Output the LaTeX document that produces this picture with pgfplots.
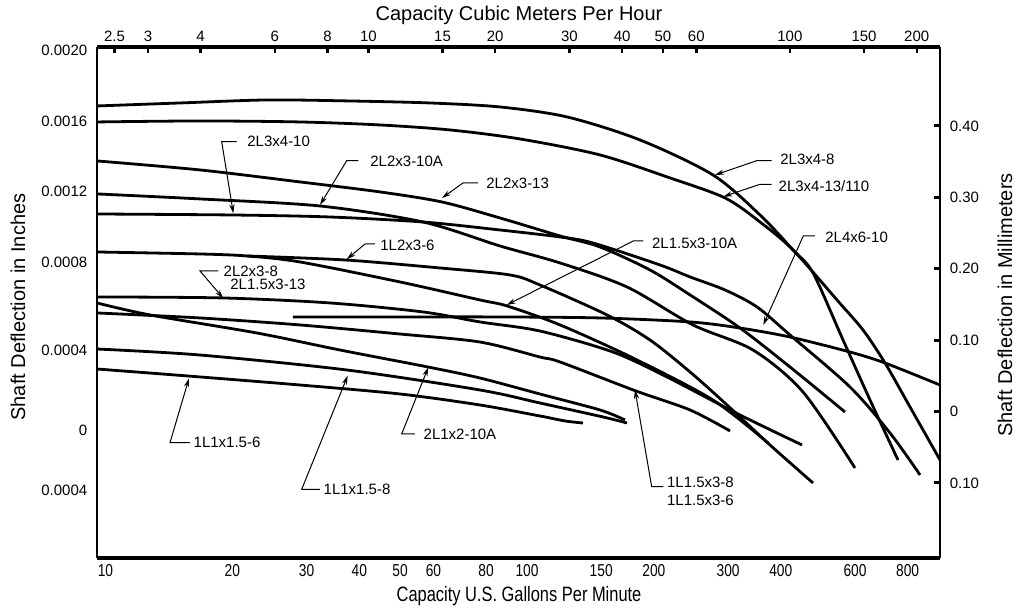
\documentclass[border=0pt]{standalone}
\usepackage{fontspec}
\setmainfont{Liberation Sans}
\usepackage{pgfplots}
\pgfplotsset{compat=1.18}
\usetikzlibrary{arrows.meta}
\newcommand{\tickfont}{\fontsize{7.5bp}{9bp}\selectfont}
\newcommand{\annfont}{\fontsize{7.5bp}{9bp}\selectfont}
\newcommand{\titlefont}{\fontsize{10bp}{12bp}\selectfont}
\pgfplotsset{curve/.style={black, line width=1.4bp, smooth, no markers}}
\begin{document}
\begin{tikzpicture}
\begin{axis}[
  at={(0,0)}, anchor=south west,
  scale only axis, width=421.5bp, height=255.5bp,
  xmode=log, xmin=10, xmax=1000,
  ymin=-0.2052, ymax=0.5105,
  axis x line*=bottom, axis y line*=left,
  x axis line style={-, line width=2.2bp},
  y axis line style={-, line width=0.9bp},
  xtick={10,20,30,40,50,60,80,100,150,200,300,400,600,800},
  xticklabels={10,20,30,40,50,60,80,100,150,200,300,400,600,800},
  xminorticks=false, yminorticks=false,
  xtick style={draw=none}, ytick style={draw=none},
  ytick={0.5063,0.4069,0.3088,0.2094,0.0861,-0.0259,-0.1099},
  yticklabels={0.0020,0.0016,0.0012,0.0008,0.0004,0,0.0004},
  /pgf/number format/assume math mode=true,
  xticklabel style={font=\fontsize{8.6bp}{10bp}\selectfont, xscale=0.8, anchor=center, inner sep=0pt, yshift=-6.5bp, xshift=5.3bp},
  yticklabel style={font=\tickfont, anchor=east, inner sep=0pt, xshift=-4.7bp},
  xlabel={Capacity U.S. Gallons Per Minute},
  xlabel style={at={(axis description cs:0.5006,-0.0744)}, anchor=center, font=\fontsize{10.4bp}{12bp}\selectfont, xscale=0.79, inner sep=0pt},
  ylabel={Shaft Deflection in Inches},
  ylabel style={at={(axis description cs:-0.0937,0.491)}, anchor=center, font=\titlefont, inner sep=0pt},
  clip=false,
]
% 2L3x4-8
\addplot[curve] coordinates {(10,0.4279) (15.74,0.4321) (25.32,0.4363) (39.83,0.4349) (61.66,0.4321) (90.41,0.4265) (130.4,0.4125) (194.2,0.3803) (289.3,0.3313) (374.1,0.2752) (448.0,0.2262) (499.7,0.1940) (588.8,0.1001) (682.3,0.0161) (795.1,-0.0679)};
% 2L3x4-13/110
\addplot[curve] coordinates {(10,0.4055) (17.55,0.4069) (30.31,0.4055) (46.93,0.4013) (68.79,0.3943) (100.8,0.3817) (156.1,0.3593) (228.8,0.3271) (309.0,0.2991) (374.1,0.2654) (448.0,0.2262) (569.6,0.1562) (656.7,0.1141) (740.6,0.0679) (848.9,0.0063) (1000,-0.0679)};
% 2L3x4-10
\addplot[curve] coordinates {(10,0.2766) (21.02,0.2752) (35.71,0.2724) (59.36,0.2654) (90.41,0.2542) (125.5,0.2444) (150.2,0.2360) (216.6,0.2052) (255.3,0.1884) (309.0,0.1702) (368.0,0.1464) (440.7,0.1071) (611.6,0.0343) (761.1,-0.0301) (896.7,-0.0889)};
% 2L2x3-13
\addplot[curve] coordinates {(10,0.3509) (17.55,0.3383) (30.31,0.3215) (46.93,0.3075) (65.85,0.2934) (90.41,0.2710) (125.5,0.2458) (156.1,0.2304) (205.1,0.1982) (255.3,0.1632) (335.4,0.1169) (440.7,0.0623) (595.1,-0.0007)};
% 2L2x3-10A
\addplot[curve] coordinates {(10,0.3047) (17.55,0.2977) (33.81,0.2878) (59.36,0.2654) (90.41,0.2318) (125.5,0.2080) (180.9,0.1744) (259.4,0.1212) (360.0,0.0861) (473.2,0.0273) (628.5,-0.0791)};
% 1L2x3-6
\addplot[curve] coordinates {(22.70,0.2178) (38.76,0.2122) (65.14,0.2010) (95.46,0.1912) (112.4,0.1772) (162.2,0.1352) (205.1,0.1001) (255.3,0.0553) (312.4,0.0091) (395.1,-0.0469) (499.7,-0.1001)};
% 2L1.5x3-10A
\addplot[curve] coordinates {(10,0.2234) (17.55,0.2206) (22.70,0.2178) (30.31,0.2094) (52.35,0.1814) (81.01,0.1562) (93.91,0.1478) (125.5,0.1212) (186.9,0.0749) (289.3,0.0161) (390.8,-0.0441)};
% 2L2x3-8 / 2L1.5x3-13
\addplot[curve] coordinates {(10,0.1604) (19.91,0.1590) (35.71,0.1520) (59.36,0.1394) (81.01,0.1254) (112.4,0.1127) (167.5,0.0833) (225.0,0.0483) (335.4,-0.0049) (470.6,-0.0469)};
% 1L1.5x3-8 / 1L1.5x3-6
\addplot[curve] coordinates {(10,0.1380) (17.55,0.1310) (30.31,0.1212) (52.35,0.1085) (81.01,0.0973) (112.4,0.0763) (125.5,0.0693) (190.0,0.0287) (255.3,0.0021) (317.6,-0.0273)};
% 2L1x2-10A
\addplot[curve] coordinates {(10,0.1520) (13.36,0.1352) (23.97,0.1099) (37.72,0.0861) (61.00,0.0623) (81.01,0.0469) (112.4,0.0245) (156.1,0.0021) (178.9,-0.0119)};
% 1L1x1.5-8
\addplot[curve] coordinates {(10,0.0875) (17.55,0.0791) (39.19,0.0581) (81.01,0.0301) (112.4,0.0119) (158.7,-0.0077) (180.9,-0.0161)};
% 1L1x1.5-6
\addplot[curve] coordinates {(10,0.0595) (16.44,0.0497) (30.31,0.0371) (52.35,0.0245) (81.01,0.0091) (112.4,-0.0063) (129.0,-0.0133) (142.2,-0.0161)};
% 2L4x6-10
\addplot[curve] coordinates {(29.17,0.1324) (52.35,0.1324) (90.41,0.1324) (156.1,0.1310) (255.3,0.1254) (335.4,0.1169) (440.7,0.1043) (611.6,0.0833) (740.6,0.0679) (1000,0.0371)};
\end{axis}
\begin{axis}[
  at={(0,0)}, anchor=south west,
  scale only axis, width=421.5bp, height=255.5bp,
  xmode=log, xmin=2.27124, xmax=227.124,
  ymin=-0.2052, ymax=0.5105,
  axis x line*=top, axis y line*=right,
  x axis line style={-, line width=1.6bp},
  y axis line style={-, line width=0.9bp},
  tick align=inside,
  major tick length=3.2bp,
  xtick={2.5,3,4,6,8,10,15,20,30,40,50,60,100,150,200},
  xticklabels={2.5,3,4,6,8,10,15,20,30,40,50,60,100,150,200},
  xminorticks=false, yminorticks=false,
  xtick style={line width=1.2bp, black},
  ytick style={line width=1.5bp, black},
  ytick={-0.1,0,0.1,0.2,0.3,0.4},
  yticklabels={0.10,0,0.10,0.20,0.30,0.40},
  xticklabel style={font=\tickfont, anchor=center, inner sep=0pt, yshift=5.5bp},
  yticklabel style={font=\tickfont, anchor=west, inner sep=0pt, xshift=4.7bp},
  xlabel={Capacity Cubic Meters Per Hour},
  xlabel style={at={(axis description cs:0.5006,1.0626)}, anchor=center, font=\titlefont, inner sep=0pt},
  ylabel={Shaft Deflection in Millimeters},
  ylabel style={at={(axis description cs:1.0771,0.4951)}, anchor=center, font=\titlefont, inner sep=0pt, rotate=0},
]
\end{axis}
\begin{scope}[x=0.5bp, y=-0.5bp, shift={(-48.5bp,279bp)},
  lbl/.style={anchor=west, inner sep=0pt, font=\annfont},
  ldr/.style={line width=0.5bp, -{Stealth[length=4.5bp,width=2.6bp]}}]
\draw[ldr] (236.7,141.7)--(221.7,141.7)--(233.3,213.3);
\node[lbl] at (247,141.7) {2L3x4-10};
\draw[ldr] (358.3,160.7)--(346.7,160.7)--(320,205);
\node[lbl] at (370,161.7) {2L2x3-10A};
\draw[ldr] (478,183)--(463,183)--(442,198);
\node[lbl] at (486,183) {2L2x3-13};
\draw[ldr] (375,244)--(365,244)--(346.7,259.3);
\node[lbl] at (380,245) {1L2x3-6};
\draw[ldr] (218.3,271)--(200,271)--(223.3,298.3);
\node[lbl] at (223.3,271) {2L2x3-8};
\node[lbl] at (230,284.3) {2L1.5x3-13};
\draw[ldr] (771.7,160.7)--(756.7,160.7)--(715,175);
\node[lbl] at (780,159) {2L3x4-8};
\draw[ldr] (771.7,184.3)--(760,184.3)--(723.3,196.7);
\node[lbl] at (778.3,185.7) {2L3x4-13/110};
\draw[ldr] (643.3,241)--(633.3,241)--(506.7,305);
\node[lbl] at (651.7,243.3) {2L1.5x3-10A};
\draw[ldr] (815,236)--(803.3,236)--(763.3,325);
\node[lbl] at (825,237.7) {2L4x6-10};
\draw[ldr] (190,442.7)--(170,442.7)--(189,378.3);
\node[lbl] at (193.3,442.7) {1L1x1.5-6};
\draw[ldr] (320,489.3)--(301.7,489.3)--(347.7,375.7);
\node[lbl] at (323.3,489.3) {1L1x1.5-8};
\draw[ldr] (415,434)--(401.7,434)--(428.3,367.3);
\node[lbl] at (423.3,434.3) {2L1x2-10A};
\draw[ldr] (663.3,486.7)--(651.7,486.7)--(635,390);
\node[lbl] at (666.7,482.7) {1L1.5x3-8};
\node[lbl] at (666.7,500) {1L1.5x3-6};
\end{scope}
\pgfresetboundingbox
\useasboundingbox (-48.5bp,-26.5bp) rectangle (461.5bp,279bp);
\end{tikzpicture}
\end{document}
